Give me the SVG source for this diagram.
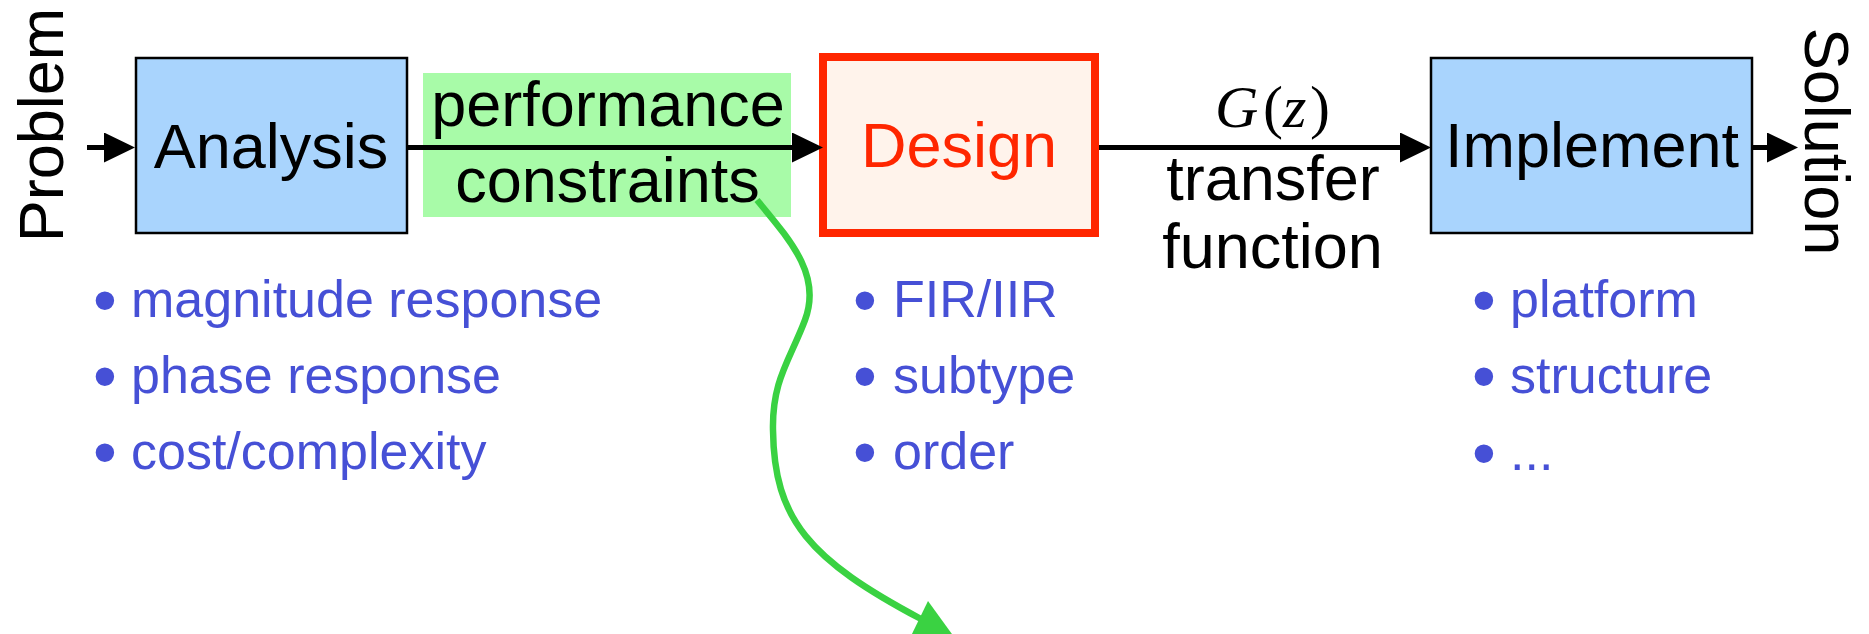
<svg xmlns="http://www.w3.org/2000/svg" width="1869" height="634" viewBox="0 0 1869 634">
  <style>
    .lbl { font-family: "Liberation Sans", Arial, Helvetica, sans-serif; font-size: 63px; fill: #000; }
    .blk { fill: #a9d4fd; stroke: #000; stroke-width: 2.5; }
    .bul { font-family: "Liberation Sans", Arial, Helvetica, sans-serif; font-size: 52px; fill: #4650d6; }
    .dot { font-size: 68px; }
    .math { font-family: "Liberation Serif", "Times New Roman", serif; font-size: 60px; fill: #000; }
    .wire { fill: none; stroke: #000; stroke-width: 5; }
    .green { fill: none; stroke: #3ad242; stroke-width: 6.5; }
  </style>
  <defs>
    <marker id="ah" markerUnits="userSpaceOnUse" viewBox="0 0 31 30" refX="1" refY="15" markerWidth="31" markerHeight="30" orient="auto">
      <path d="M0,0 L31,15 L0,30 Z" fill="#000"/>
    </marker>
  </defs>

  <rect width="1869" height="634" fill="#fff"/>

  <g id="problem">
    <text class="lbl" font-size="63" text-anchor="middle" transform="translate(63,125) rotate(-90)">Problem</text>
  </g>

  <g id="analysis">
    <rect class="blk" x="136" y="58" width="271" height="175"/>
    <text class="lbl" x="271" y="168" text-anchor="middle">Analysis</text>
  </g>

  <g id="constraints">
    <rect x="423" y="73" width="368" height="144" fill="#a8fba8"/>
    <text class="lbl" x="608" y="126" text-anchor="middle">performance</text>
    <text class="lbl" x="607.5" y="202" text-anchor="middle">constraints</text>
  </g>

  <g id="design">
    <rect x="823" y="57" width="272" height="176" fill="#fff3eb" stroke="#ff2600" stroke-width="8"/>
    <text class="lbl" x="959" y="167" text-anchor="middle" style="fill:#ff2600">Design</text>
  </g>

  <g id="transfer">
    <text class="math" y="127"><tspan x="1215" font-style="italic">G</tspan><tspan x="1263">(</tspan><tspan x="1283" font-style="italic">z</tspan><tspan x="1310">)</tspan></text>
    <text class="lbl" x="1273" y="200" text-anchor="middle">transfer</text>
    <text class="lbl" x="1272.5" y="268" text-anchor="middle">function</text>
  </g>

  <g id="implement">
    <rect class="blk" x="1431" y="58" width="321" height="175"/>
    <text class="lbl" x="1592" y="167" text-anchor="middle">Implement</text>
  </g>

  <g id="solution">
    <text class="lbl" font-size="63" text-anchor="middle" transform="translate(1805,141.5) rotate(90)">Solution</text>
  </g>

  <g id="analysis-bullets">
    <text class="bul" y="317"><tspan class="dot" x="93" dy="6">•</tspan><tspan x="131" dy="-6">magnitude response</tspan></text>
    <text class="bul" y="393"><tspan class="dot" x="93" dy="6">•</tspan><tspan x="131" dy="-6">phase response</tspan></text>
    <text class="bul" y="469"><tspan class="dot" x="93" dy="6">•</tspan><tspan x="131" dy="-6">cost/complexity</tspan></text>
  </g>

  <g id="design-bullets">
    <text class="bul" y="317"><tspan class="dot" x="853" dy="6">•</tspan><tspan x="893" dy="-6">FIR/IIR</tspan></text>
    <text class="bul" y="393"><tspan class="dot" x="853" dy="6">•</tspan><tspan x="893" dy="-6">subtype</tspan></text>
    <text class="bul" y="469"><tspan class="dot" x="853" dy="6">•</tspan><tspan x="893" dy="-6">order</tspan></text>
  </g>

  <g id="implement-bullets">
    <text class="bul" y="317"><tspan class="dot" x="1472" dy="6">•</tspan><tspan x="1510" dy="-6">platform</tspan></text>
    <text class="bul" y="393"><tspan class="dot" x="1472" dy="6">•</tspan><tspan x="1510" dy="-6">structure</tspan></text>
    <text class="bul" y="470"><tspan class="dot" x="1472" dy="6">•</tspan><tspan x="1510" dy="-6">...</tspan></text>
  </g>

  <g id="connectors">
    <path class="wire" d="M87,147.5 H105" marker-end="url(#ah)"/>
    <path class="wire" d="M407,147.5 H793" marker-end="url(#ah)"/>
    <path class="wire" d="M1099,147.5 H1401" marker-end="url(#ah)"/>
    <path class="wire" d="M1752,147.5 H1768" marker-end="url(#ah)"/>
    <path class="green" d="M757,200 C790,240 822,275 805,320 C790,360 772,380 773,430 C774,520 810,560 921,619"/>
    <polygon points="928,601 957,641 910,638" fill="#3ad242"/>
  </g>
</svg>
